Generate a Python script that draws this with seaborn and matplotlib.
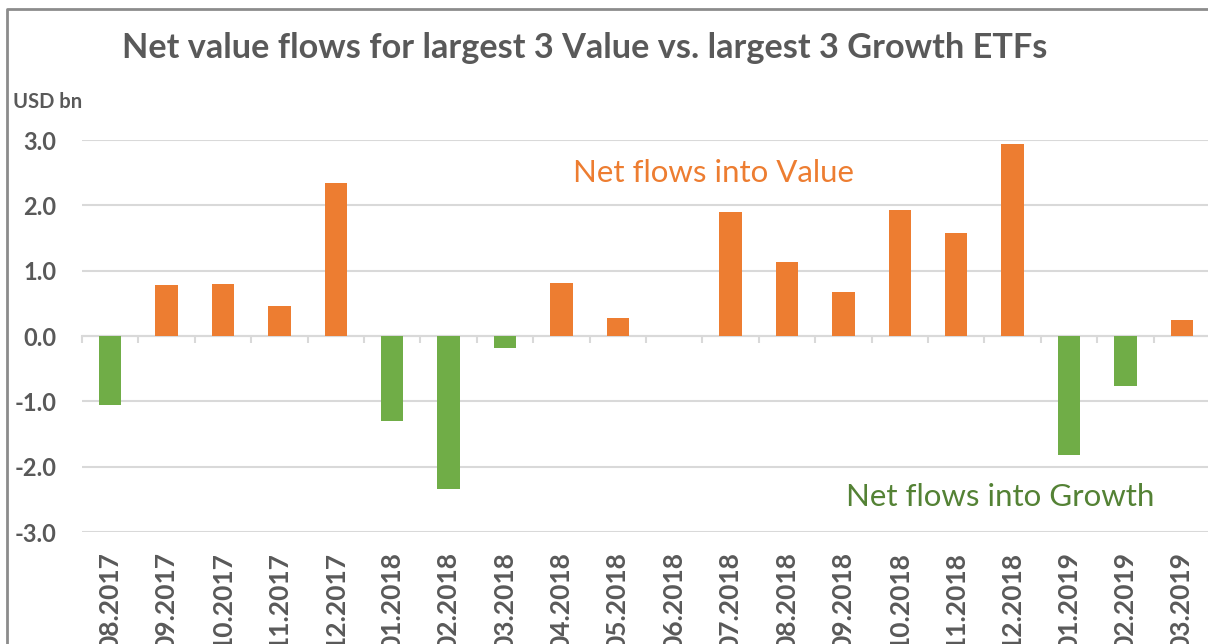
import matplotlib
matplotlib.use("Agg")
import matplotlib.pyplot as plt
import seaborn as sns
import pandas as pd
import numpy as np
from matplotlib.lines import Line2D
from matplotlib.ticker import FixedLocator

# ---- data ----
months = ["08.2017", "09.2017", "10.2017", "11.2017", "12.2017",
          "01.2018", "02.2018", "03.2018", "04.2018", "05.2018", "06.2018",
          "07.2018", "08.2018", "09.2018", "10.2018", "11.2018", "12.2018",
          "01.2019", "02.2019", "03.2019"]
flows = [-1.05, 0.78, 0.80, 0.46, 2.34,
         -1.30, -2.34, -0.18, 0.81, 0.28, 0.0,
         1.90, 1.13, 0.67, 1.93, 1.58, 2.94,
         -1.82, -0.77, 0.24]
y_ticks = [-3, -2, -1, 0, 1, 2, 3]
y_tick_labels = ["-3.0", "-2.0", "-1.0", "0.0", "1.0", "2.0", "3.0"]
title = "Net value flows for largest 3 Value vs. largest 3 Growth ETFs"
unit_label = "USD bn"
value_label = "Net flows into Value"
growth_label = "Net flows into Growth"

ORANGE = "#ED7D31"
GREEN = "#70AD47"
GREEN_TXT = "#548235"
GREY_TXT = "#595959"
GRID = "#D9D9D9"

sns.set_theme(style="white")
plt.rcParams["font.family"] = ["Lato", "DejaVu Sans"]

df = pd.DataFrame({"month": months, "flow": flows})
df["kind"] = np.where(df["flow"] >= 0, "Value", "Growth")

W, H = 1208, 644
fig = plt.figure(figsize=(W / 100, H / 100), dpi=100)
ax = fig.add_axes([82 / W, 112 / H, 1128 / W, 392 / H])

sns.barplot(data=df, x="month", y="flow", hue="kind",
            palette={"Value": ORANGE, "Growth": GREEN},
            dodge=False, width=0.4, saturation=1, legend=False,
            linewidth=0, ax=ax)

ax.set_xlim(-0.5, len(months) - 0.5)
ax.set_ylim(-3, 3)
ax.set_yticks(y_ticks, y_tick_labels)
ax.set_xlabel("")
ax.set_ylabel("")
ax.grid(axis="y", color=GRID, lw=1.5)
ax.grid(axis="x", visible=False)
ax.set_axisbelow(True)
for s in ax.spines.values():
    s.set_visible(False)

ax.tick_params(axis="x", length=0, pad=14.5, labelrotation=90,
               labelsize=19, labelcolor=GREY_TXT)
ax.tick_params(axis="y", length=0, pad=18.5, labelsize=17,
               labelcolor=GREY_TXT)
for lbl in ax.get_xticklabels() + ax.get_yticklabels():
    lbl.set_fontweight("bold")

# zero line with category-boundary ticks
sec = ax.secondary_xaxis(0.5)
sec.set_alignment("bottom")
sec.set_xticks([])
sec.xaxis.set_minor_locator(FixedLocator(np.arange(-0.5, len(months), 1.0)))
sec.tick_params(which="minor", length=5, width=1.5, color=GRID,
                direction="out")
sec.spines["bottom"].set_color(GRID)
sec.spines["bottom"].set_linewidth(1.5)
sec.spines["top"].set_visible(False)

ax.text(10.7, 2.5, value_label, color=ORANGE, fontsize=22.5,
        ha="center", va="center")
ax.text(15.78, -2.47, growth_label, color=GREEN_TXT, fontsize=22.5,
        ha="center", va="center")

fig.text(585 / W, 1 - 48 / H, title, ha="center", va="center",
         fontsize=24.7, fontweight="bold", color=GREY_TXT)
fig.text(13 / W, 1 - 102 / H, unit_label, ha="left", va="center",
         fontsize=14.5, fontweight="bold", color=GREY_TXT)

# chart-area frame (top and left edges visible in the crop)
x0, y0 = 7 / W, 1 - 9 / H
fig.add_artist(Line2D([x0, x0, 1.05], [-0.05, y0, y0],
                      transform=fig.transFigure, color="#8C8C8C", lw=2))

fig.savefig("out.png", dpi=100)
